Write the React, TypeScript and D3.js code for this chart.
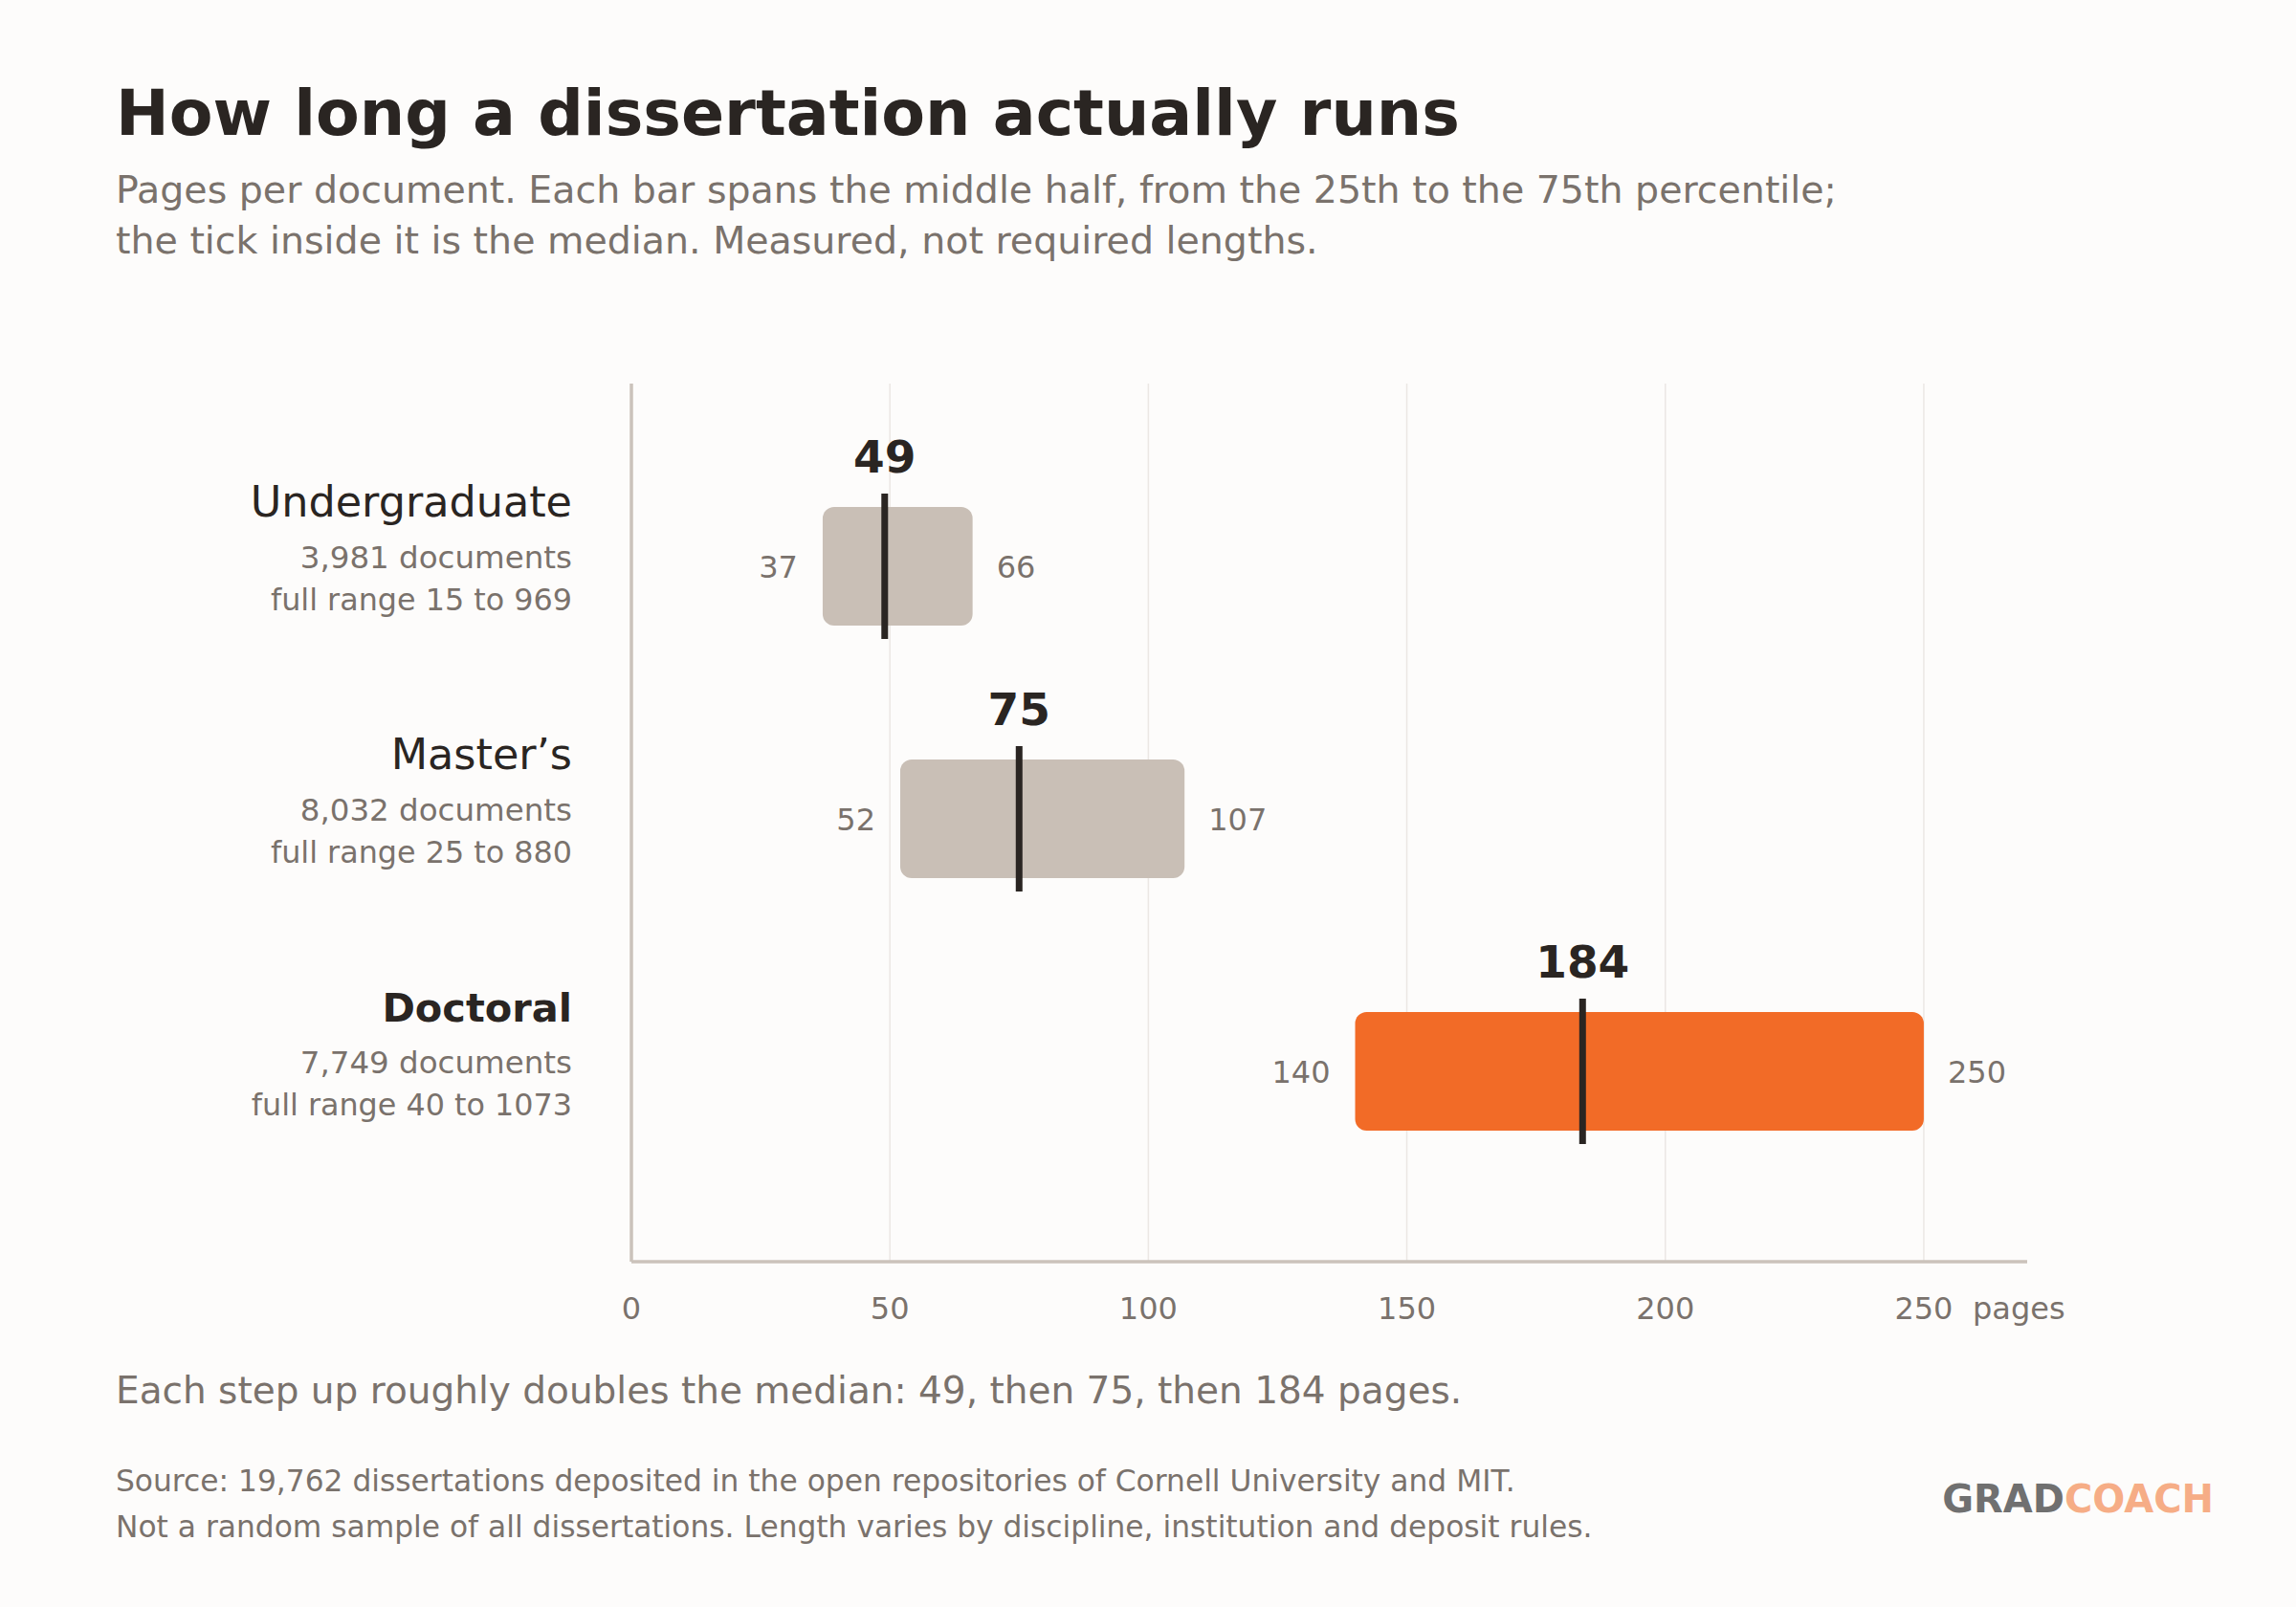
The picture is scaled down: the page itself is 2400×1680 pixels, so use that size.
import React from "react";
import * as d3 from "d3";

// degree levels, top to bottom
const levels = ["Undergraduate", "Master’s", "Doctoral"];
const documents = ["3,981", "8,032", "7,749"];
const fullMin = [15, 25, 40];
const fullMax = [969, 880, 1073];
const p25 = [37, 52, 140];
const median = [49, 75, 184];
const p75 = [66, 107, 250];
const highlight = [false, false, true];

const xTicks = [0, 50, 100, 150, 200, 250];

const W = 2400;
const H = 1680;
const FONT = "'DejaVu Sans', sans-serif";
const INK = "#2a2522";
const MUTED = "#7a726c";
const BAR_GREY = "#c9bfb6";
const BAR_ORANGE = "#f26b27";

export default function App() {
  const x = d3.scaleLinear().domain([0, 270]).range([660, 2119]);
  const y = d3.scaleBand<string>().domain(levels).range([460, 1252]);

  const plotTop = 401;
  const plotBottom = 1319;
  const barH = 124;
  const tickExtra = 14;

  return (
    <svg width={W} height={H} viewBox={`0 0 ${W} ${H}`} style={{ display: "block", position: "absolute", left: 0, top: 0 }}>
      <rect width={W} height={H} fill="#fdfcfb" />

      {/* heading */}
      <text x={121} y={141} fontFamily={FONT} fontWeight={700} fontSize={66.6} fill={INK}>
        How long a dissertation actually runs
      </text>
      <text fontFamily={FONT} fontSize={39.5} fill={MUTED}>
        <tspan x={121} y={212}>
          Pages per document. Each bar spans the middle half, from the 25th to the 75th percentile;
        </tspan>
        <tspan x={121} y={265}>
          the tick inside it is the median. Measured, not required lengths.
        </tspan>
      </text>

      {/* grid */}
      {xTicks.slice(1).map((t) => (
        <line key={t} x1={x(t)} x2={x(t)} y1={plotTop} y2={plotBottom} stroke="#ebe7e4" strokeWidth={1.5} />
      ))}
      <line x1={x(0)} x2={x(0)} y1={plotTop} y2={plotBottom} stroke="#cbc3bb" strokeWidth={3.5} />
      <line x1={x(0)} x2={x(270)} y1={plotBottom} y2={plotBottom} stroke="#cbc3bb" strokeWidth={3.5} />

      {xTicks.map((t) => (
        <text key={t} x={x(t)} y={1379} textAnchor="middle" fontFamily={FONT} fontSize={32} fill={MUTED}>
          {t}
        </text>
      ))}
      <text x={2062} y={1379} fontFamily={FONT} fontSize={32} fill={MUTED}>
        pages
      </text>

      {/* rows */}
      {levels.map((lvl, i) => {
        const cy = (y(lvl) ?? 0) + y.bandwidth() / 2;
        const bold = highlight[i];
        return (
          <g key={lvl}>
            <text x={598} y={cy - 52} textAnchor="end" fontFamily={FONT} fontSize={bold ? 41.5 : 44.5} fontWeight={bold ? 700 : 400} fill={INK}>
              {lvl}
            </text>
            <text x={598} y={cy + 2} textAnchor="end" fontFamily={FONT} fontSize={32.5} fill={MUTED}>
              {documents[i]} documents
            </text>
            <text x={598} y={cy + 46} textAnchor="end" fontFamily={FONT} fontSize={31.8} fill={MUTED}>
              full range {fullMin[i]} to {fullMax[i]}
            </text>

            <rect
              x={x(p25[i])}
              y={cy - barH / 2}
              width={x(p75[i]) - x(p25[i])}
              height={barH}
              rx={12}
              fill={bold ? BAR_ORANGE : BAR_GREY}
            />
            <line
              x1={x(median[i])}
              x2={x(median[i])}
              y1={cy - barH / 2 - tickExtra}
              y2={cy + barH / 2 + tickExtra}
              stroke={INK}
              strokeWidth={7}
            />
            <text x={x(median[i])} y={cy - 98} textAnchor="middle" fontFamily={FONT} fontWeight={700} fontSize={47} fill={INK}>
              {median[i]}
            </text>
            <text x={x(p25[i]) - 26} y={cy + 12} textAnchor="end" fontFamily={FONT} fontSize={32} fill={MUTED}>
              {p25[i]}
            </text>
            <text x={x(p75[i]) + 25} y={cy + 12} fontFamily={FONT} fontSize={32} fill={MUTED}>
              {p75[i]}
            </text>
          </g>
        );
      })}

      {/* takeaway and notes */}
      <text x={121} y={1467} fontFamily={FONT} fontSize={39} fill={MUTED}>
        Each step up roughly doubles the median: {median[0]}, then {median[1]}, then {median[2]} pages.
      </text>
      <text fontFamily={FONT} fontSize={31.3} fill={MUTED}>
        <tspan x={121} y={1559}>
          Source: 19,762 dissertations deposited in the open repositories of Cornell University and MIT.
        </tspan>
        <tspan x={121} y={1607}>
          Not a random sample of all dissertations. Length varies by discipline, institution and deposit rules.
        </tspan>
      </text>

      <text x={2314} y={1581} textAnchor="end" fontFamily={FONT} fontWeight={700} fontSize={40}>
        <tspan fill="#707070">GRAD</tspan>
        <tspan fill="#f6ad86">COACH</tspan>
      </text>
    </svg>
  );
}
